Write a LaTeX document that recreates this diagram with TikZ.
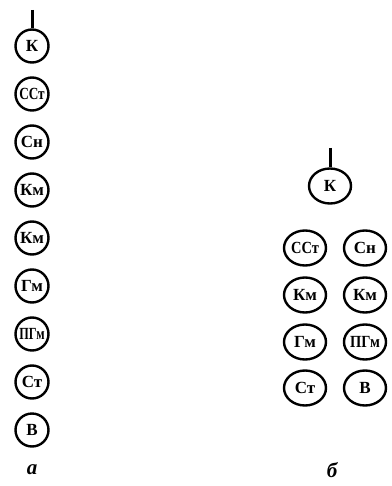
\documentclass[tikz,border=0pt]{standalone}
\usepackage{fontspec}
\setmainfont{Liberation Serif}
\usetikzlibrary{shapes.geometric}
\begin{document}
\begin{tikzpicture}[x=1pt,y=-1pt,
  lc/.style={draw,line width=2.4pt,circle,minimum size=33pt,inner sep=0pt,font=\fontsize{17}{17}\selectfont\bfseries},
  rc/.style={draw,line width=2.4pt,ellipse,minimum width=42pt,minimum height=35pt,inner sep=0pt,font=\fontsize{17}{17}\selectfont\bfseries},
  stem/.style={line width=3pt},
  lab/.style={font=\fontsize{21}{21}\selectfont\bfseries\itshape}]
\useasboundingbox (0,0) rectangle (391,486);
% column a
\node[lc] (a1) at (32,46) {К};
\node[lc] (a2) at (32,94) {\scalebox{0.78}[1]{ССт}};
\node[lc] (a3) at (32,142) {Сн};
\node[lc] (a4) at (32,190) {Км};
\node[lc] (a5) at (32,238) {Км};
\node[lc] (a6) at (32,286) {Гм};
\node[lc] (a7) at (32,334) {\scalebox{0.72}[1]{ПГм}};
\node[lc] (a8) at (32,382) {Ст};
\node[lc] (a9) at (32,430) {В};
\coordinate (at) at (32,10);
\draw[stem] (at) -- (a1.north);
\node[lab] (la) at (32,470) {а};
% group b
\node[rc] (b0) at (330,186) {К};
\coordinate (bt) at (330,148);
\draw[stem] (bt) -- (b0.north);
\node[rc] (b1) at (305,248) {\scalebox{0.85}[1]{ССт}};
\node[rc] (b2) at (365,248) {Сн};
\node[rc] (b3) at (305,295) {Км};
\node[rc] (b4) at (365,295) {Км};
\node[rc] (b5) at (305,342) {Гм};
\node[rc] (b6) at (365,342) {\scalebox{0.85}[1]{ПГм}};
\node[rc] (b7) at (305,388) {Ст};
\node[rc] (b8) at (365,388) {В};
\node[lab] (lb) at (332,470) {б};
\end{tikzpicture}
\end{document}
